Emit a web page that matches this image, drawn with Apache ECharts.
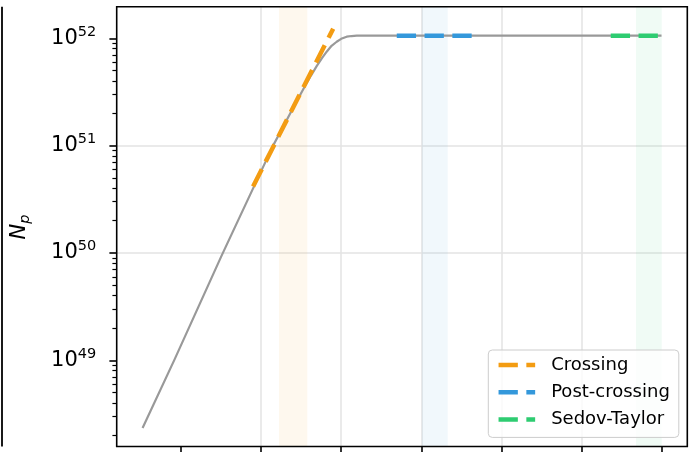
<!DOCTYPE html>
<html><head><meta charset="utf-8">
<script src="https://cdn.jsdelivr.net/npm/echarts@6/dist/echarts.min.js"></script>
<style>html,body{margin:0;padding:0;background:#fff}#c{width:697px;height:452px}</style>
</head><body><div id="c"></div>
<script>
// ---- data ----
const curveX = [-0.48, -0.08, 0.51, 1.15, 1.295, 1.435, 1.545, 1.625, 1.694, 1.76, 1.819, 1.88, 1.944, 2.00, 2.069, 2.13, 2.194, 2.40, 3.00, 4.00, 5.00, 6.00];
const curveN = [2.34e48, 1.02e49, 9.55e49, 1.00e51, 1.60e51, 2.51e51, 3.55e51, 4.52e51, 5.50e51, 6.53e51, 7.50e51, 8.51e51, 9.29e51, 9.89e51, 1.035e52, 1.050e52, 1.057e52, 1.059e52, 1.059e52, 1.059e52, 1.059e52, 1.059e52];
const crossingX = [0.90, 1.90];
const crossingN = [4.17e50, 1.23e52];
const postX = [2.694, 3.643];
const postN = [1.057e52, 1.057e52];
const sedovX = [5.366, 5.960];
const sedovN = [1.057e52, 1.057e52];
const bandCrossing = [1.224, 1.577];
const bandPost = [3.006, 3.330];
const bandSedov = [5.682, 6.003];
const xTicks = [0, 1, 2, 3, 4, 5, 6];
const yMajorTicks = [1e49, 1e50, 1e51, 1e52];
const minorMantissas = [2, 3, 4, 5, 6, 7, 8, 9];
const minorDecades = [48, 49, 50, 51];
const seriesNames = ['Crossing', 'Post-crossing', 'Sedov-Taylor'];
const colors = ['#f39c12', '#3498db', '#2ecc71'];

const yMinorTicks = [];
minorDecades.forEach(d => minorMantissas.forEach(m => yMinorTicks.push(m * Math.pow(10, d))));

const zip = (xs, ys) => xs.map((x, i) => [x, ys[i]]);
const FONT = 'DejaVu Sans';
const X_MIN = -0.803, X_MAX = 6.322;
const Y_MIN = Math.pow(10, 48.1966), Y_MAX = Math.pow(10, 52.2945);
const G = {left: 116.7, right: 9.7, top: 6.7, bottom: 5.5};
const DASH = [19.3, 8.5];

const dashLine = (name, xs, ys, color) => ({
  name, type: 'line', data: zip(xs, ys), symbol: 'none', z: 3,
  lineStyle: {color, width: 4.5, type: DASH, cap: 'butt'},
  itemStyle: {color}
});

const band = (r, rgba) => [{xAxis: r[0], itemStyle: {color: rgba}}, {xAxis: r[1]}];

const chart = echarts.init(document.getElementById('c'), null, {renderer: 'canvas'});
chart.setOption({
  animation: false,
  grid: {left: G.left, right: G.right, top: G.top, bottom: G.bottom},
  xAxis: {
    type: 'value', min: X_MIN, max: X_MAX, splitNumber: 7, minInterval: 1, maxInterval: 1,
    position: 'bottom',
    axisLine: {show: false, onZero: false},
    axisTick: {show: true, customValues: xTicks, length: 7.3, lineStyle: {color: '#000', width: 1.6}},
    axisLabel: {show: false},
    splitLine: {show: true, showMinLine: false, showMaxLine: false, lineStyle: {color: '#e3e3e3', width: 1.5}}
  },
  yAxis: [{
    type: 'log', logBase: 10, min: Y_MIN, max: Y_MAX, position: 'left', offset: 0,
    axisLine: {show: false, onZero: false},
    axisTick: {show: true, customValues: yMajorTicks, length: 7.3, lineStyle: {color: '#000', width: 1.6}},
    axisLabel: {
      show: true, customValues: yMajorTicks, margin: 20.5,
      formatter: v => '{b|10}{s|' + Math.round(Math.log10(v)) + '}',
      rich: {
        b: {fontSize: 21, fontFamily: FONT, color: '#000'},
        s: {fontSize: 14.5, fontFamily: FONT, color: '#000', padding: [0, 0, 13, 0]}
      }
    },
    splitLine: {show: true, showMinLine: false, showMaxLine: false, lineStyle: {color: '#e3e3e3', width: 1.5}}
  }, {
    type: 'log', logBase: 10, min: Y_MIN, max: Y_MAX, position: 'left', offset: 0,
    axisLine: {show: false, onZero: false},
    axisTick: {show: true, customValues: yMinorTicks, length: 4.3, lineStyle: {color: '#000', width: 1.2}},
    axisLabel: {show: false},
    splitLine: {show: false}
  }],
  legend: {
    data: seriesNames, orient: 'vertical', left: 488.3, top: 350,
    itemWidth: 36.6, itemHeight: 14, itemGap: 7.2,
    padding: [5, 9, 8, 8],
    itemStyle: {opacity: 0},
    lineStyle: {width: 4.5, type: DASH, cap: 'butt'},
    backgroundColor: 'rgba(255,255,255,0.8)', borderColor: '#cccccc', borderWidth: 1, borderRadius: 4,
    textStyle: {fontSize: 18, fontFamily: FONT, color: '#000', lineHeight: 20, padding: [0, 0, 0, 11]}
  },
  series: [
    {
      name: 'curve', type: 'line', data: zip(curveX, curveN), symbol: 'none', z: 2,
      lineStyle: {color: '#999999', width: 2.2, join: 'round'}, itemStyle: {color: '#999999'},
      markArea: {
        silent: true,
        data: [
          band(bandCrossing, 'rgba(243,156,18,0.07)'),
          band(bandPost, 'rgba(52,152,219,0.07)'),
          band(bandSedov, 'rgba(46,204,113,0.07)')
        ]
      }
    },
    dashLine(seriesNames[0], crossingX, crossingN, colors[0]),
    dashLine(seriesNames[1], postX, postN, colors[1]),
    dashLine(seriesNames[2], sedovX, sedovN, colors[2])
  ],
  graphic: [
    {type: 'rect', z: 100, silent: true,
     shape: {x: G.left, y: G.top, width: 697 - G.left - G.right, height: 452 - G.top - G.bottom},
     style: {fill: null, stroke: '#000', lineWidth: 1.6}},
    {type: 'line', z: 100, silent: true,
     shape: {x1: 2, y1: G.top, x2: 2, y2: 452 - G.bottom},
     style: {stroke: '#000', lineWidth: 1.8}},
    {type: 'text', z: 100, silent: true, x: 20, y: 227, rotation: Math.PI / 2,
     style: {
       text: '{n|N}{p|p}', align: 'center', verticalAlign: 'middle',
       rich: {
         n: {fontSize: 21, fontStyle: 'italic', fontFamily: FONT, fill: '#000'},
         p: {fontSize: 14.5, fontStyle: 'italic', fontFamily: FONT, fill: '#000', padding: [10, 0, 0, 0]}
       }
     }}
  ]
});
</script>
</body></html>
